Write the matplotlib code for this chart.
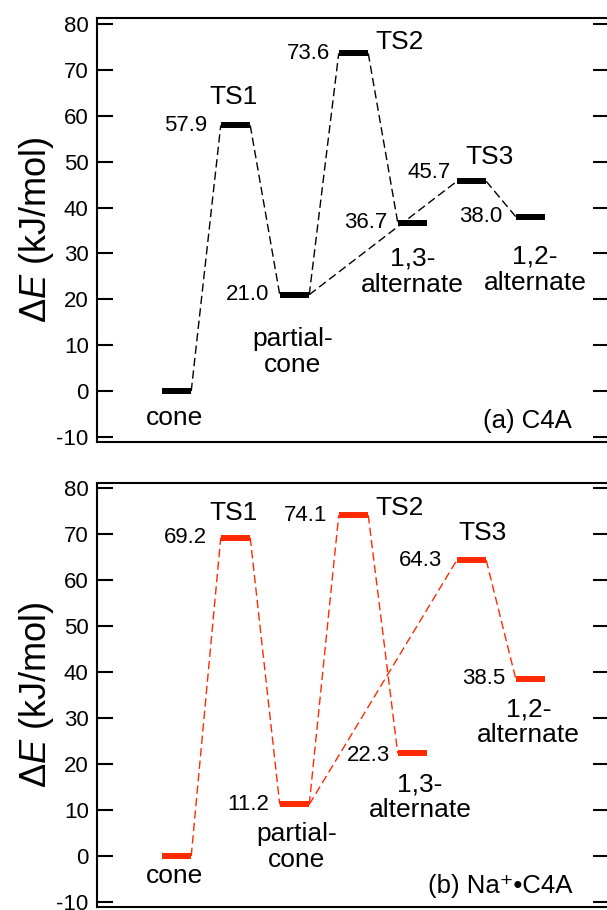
import numpy as np
import matplotlib
matplotlib.use("Agg")
import matplotlib.pyplot as plt

plt.rcParams['font.family'] = ['Liberation Sans', 'DejaVu Sans']
plt.rcParams['mathtext.fontset'] = 'custom'
plt.rcParams['mathtext.rm'] = 'Liberation Sans'
plt.rcParams['mathtext.it'] = 'Liberation Sans:italic'
plt.rcParams['axes.unicode_minus'] = False

# states along the reaction coordinate
states = ['cone', 'TS1', 'partial-\ncone', 'TS2', '1,3-\nalternate', 'TS3', '1,2-\nalternate']
energy_c4a = [0.0, 57.9, 21.0, 73.6, 36.7, 45.7, 38.0]
energy_na = [0.0, 69.2, 11.2, 74.1, 22.3, 64.3, 38.5]
# connections (from state, to state)
paths = [(0, 1), (1, 2), (2, 3), (2, 5), (3, 4), (5, 6)]
yticks = [-10, 0, 10, 20, 30, 40, 50, 60, 70, 80]

# label placement (layout only)
name_off_a = [(-0.03, -5.8, 'center'), (-0.04, 6.2, 'center'), (-0.03, -12.5, 'center'),
              (0.37, 2.5, 'left'), (0.0, -10.7, 'center'), (0.31, 5.3, 'center'),
              (0.08, -11.6, 'center')]
name_off_b = [(-0.03, -4.4, 'center'), (-0.04, 5.4, 'center'), (0.03, -9.2, 'center'),
              (0.37, 1.5, 'left'), (0.13, -9.5, 'center'), (0.18, 5.9, 'center'),
              (-0.03, -9.4, 'center')]
val_gap_a = [0, 14, 10, 9, 10, 6, 13]
val_gap_b = [0, 14, 11, 11, 8, 15, 10]
val_dy_a = [0, 0, 0, 0, 0, 2.0, 0]
val_dy_b = [0, 0, 0, 0, -0.4, 0, 0]

fig = plt.figure(figsize=(6.07, 9.10), dpi=100)
ax_a = fig.add_axes([97/607, 1-442/910, (609-97)/607, (442-18)/910])
ax_b = fig.add_axes([97/607, 1-907/910, (609-97)/607, (907-483)/910])

red = '#ff2a00'
halfw = 0.25
px = 1/59.0


def draw(ax, energy, color, name_off, val_gap, val_dy, ylim, tag):
    x = np.arange(len(energy))
    for i, j in paths:
        ax.plot([x[i] + halfw, x[j] - halfw], [energy[i], energy[j]], color=color,
                lw=1.0, dashes=(6, 3))
    for xi, e in zip(x, energy):
        ax.plot([xi - halfw, xi + halfw], [e, e], color=color, lw=4.3,
                solid_capstyle='butt')
    for k, (xi, e) in enumerate(zip(x, energy)):
        dx, dy, ha = name_off[k]
        ax.text(xi + dx, e + dy, states[k], ha=ha, va='center', fontsize=19,
                linespacing=1.1)
        if k > 0:
            ax.text(xi - halfw - val_gap[k]*px, e + val_dy[k], f'{e:.1f}',
                    ha='right', va='center', fontsize=16)
    ax.set_xlim(-1.347, 7.33)
    ax.set_ylim(*ylim)
    ax.set_yticks(yticks)
    ax.set_xticks([])
    ax.tick_params(axis='y', direction='in', length=11.5, width=1.5, right=True,
                   labelsize=16, pad=6)
    for s in ax.spines.values():
        s.set_linewidth(1.5)
    ax.set_ylabel(r'Δ$E$ (kJ/mol)', fontsize=26, labelpad=0)
    ax.text(0.928, 0.05, tag, transform=ax.transAxes, ha='right', va='center',
            fontsize=18.5)


draw(ax_a, energy_c4a, 'black', name_off_a, val_gap_a, val_dy_a, (-11.1, 81.3), '(a) C4A')
draw(ax_b, energy_na, red, name_off_b, val_gap_b, val_dy_b, (-11.1, 81.1), '(b) Na⁺•C4A')

fig.savefig('out.png', dpi=100)
